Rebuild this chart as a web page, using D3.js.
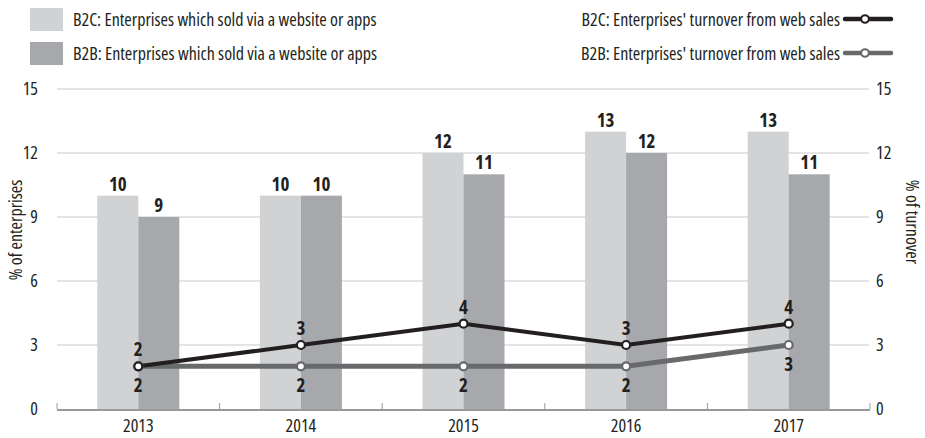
<!DOCTYPE html>
<html><head><meta charset="utf-8">
<script src="https://cdn.jsdelivr.net/npm/d3@7"></script>
<style>body{margin:0;background:#fff}svg{display:block}svg text{font-family:"Open Sans",sans-serif;font-stretch:80%;fill:#231f20}</style>
</head><body><svg id="c" width="925" height="438"></svg>
<script>
const years = ["2013","2014","2015","2016","2017"];
const b2cSold = [10,10,12,13,13];
const b2bSold = [9,10,11,12,11];
const b2cTurnover = [2,3,4,3,4];
const b2bTurnover = [2,2,2,2,3];
const yTicks = [0,3,6,9,12,15];
const legendBars = ["B2C: Enterprises which sold via a website or apps","B2B: Enterprises which sold via a website or apps"];
const legendLines = ["B2C: Enterprises' turnover from web sales","B2B: Enterprises' turnover from web sales"];

const svg = d3.select("#c");
const L = 57, R = 870, T = 89, B = 409;
const x = d3.scaleBand().domain(years).range([L, R]);
const y = d3.scaleLinear().domain([0, 15]).range([B, T]);
const y2 = d3.scaleLinear().domain([0, 15]).range([B, T]);
const barW = 41;
const cB2C = "#d1d2d4", cB2B = "#a7a8ab", cL1 = "#231f20", cL2 = "#68696b";
const FF = '"Open Sans",sans-serif';

// gridlines
svg.append("g").selectAll("line").data(yTicks.filter(d=>d>0)).join("line")
  .attr("x1", L).attr("x2", R-1).attr("y1", d=>y(d)).attr("y2", d=>y(d))
  .attr("stroke", "#c9c9cb").attr("stroke-width", 1.2);

// axes labels
const la = svg.append("g").attr("transform", `translate(${L},0)`)
  .call(d3.axisLeft(y).tickValues(yTicks).tickSize(0).tickPadding(19));
la.select(".domain").remove();
la.selectAll("text").style("font-size","18px").style("font-family",FF).attr("fill","#231f20");
const ra = svg.append("g").attr("transform", `translate(${R},0)`)
  .call(d3.axisRight(y2).tickValues(yTicks).tickSize(0).tickPadding(6));
ra.select(".domain").remove();
ra.selectAll("text").style("font-size","18px").style("font-family",FF).attr("fill","#231f20");

// bars
const cx = d => x(d) + x.bandwidth()/2;
svg.append("g").selectAll("rect").data(years).join("rect")
  .attr("x", d=>cx(d)-barW).attr("width", barW)
  .attr("y", (d,i)=>y(b2cSold[i])).attr("height", (d,i)=>B-y(b2cSold[i])).attr("fill", cB2C);
svg.append("g").selectAll("rect").data(years).join("rect")
  .attr("x", d=>cx(d)).attr("width", barW)
  .attr("y", (d,i)=>y(b2bSold[i])).attr("height", (d,i)=>B-y(b2bSold[i])).attr("fill", cB2B);

// bar labels
svg.append("g").selectAll("text").data(years).join("text")
  .attr("x", d=>cx(d)-barW/2).attr("y", (d,i)=>y(b2cSold[i])-5)
  .attr("text-anchor","middle").style("font-size","19px").style("font-weight","bold").text((d,i)=>b2cSold[i]);
svg.append("g").selectAll("text").data(years).join("text")
  .attr("x", d=>cx(d)+barW/2).attr("y", (d,i)=>y(b2bSold[i])-5)
  .attr("text-anchor","middle").style("font-size","19px").style("font-weight","bold").text((d,i)=>b2bSold[i]);

// baseline and ticks
svg.append("line").attr("x1",L).attr("x2",R).attr("y1",B+1).attr("y2",B+1).attr("stroke","#98999b").attr("stroke-width",2);
const sepTicks = [L, ...years.slice(1).map(d=>x(d)), R];
svg.append("g").selectAll("line").data(sepTicks).join("line")
  .attr("x1",d=>d).attr("x2",d=>d).attr("y1",B-6).attr("y2",B).attr("stroke","#98999b").attr("stroke-width",1);

// x labels
svg.append("g").selectAll("text").data(years).join("text")
  .attr("x", cx).attr("y", 432).attr("text-anchor","middle").style("font-size","18px").text(d=>d);

// lines
const line = d3.line().x((d,i)=>cx(years[i])).y(d=>y2(d));
svg.append("path").datum(b2bTurnover).attr("d", line).attr("fill","none").attr("stroke",cL2).attr("stroke-width",5);
svg.append("path").datum(b2cTurnover).attr("d", line).attr("fill","none").attr("stroke",cL1).attr("stroke-width",4);
svg.append("g").selectAll("circle").data(b2bTurnover).join("circle")
  .attr("cx",(d,i)=>cx(years[i])).attr("cy",d=>y2(d)).attr("r",4).attr("fill","#fff").attr("stroke",cL2).attr("stroke-width",2.2);
svg.append("g").selectAll("circle").data(b2cTurnover).join("circle")
  .attr("cx",(d,i)=>cx(years[i])).attr("cy",d=>y2(d)).attr("r",4).attr("fill","#fff").attr("stroke",cL1).attr("stroke-width",2.2);
svg.append("g").selectAll("text").data(b2cTurnover).join("text")
  .attr("x",(d,i)=>cx(years[i])).attr("y",d=>y2(d)-10).attr("text-anchor","middle")
  .style("font-size","19px").style("font-weight","bold").text(d=>d);
svg.append("g").selectAll("text").data(b2bTurnover).join("text")
  .attr("x",(d,i)=>cx(years[i])).attr("y",d=>y2(d)+26).attr("text-anchor","middle")
  .style("font-size","19px").style("font-weight","bold").text(d=>d);

// axis titles
svg.append("text").attr("transform","translate(22,230) rotate(-90)").attr("text-anchor","middle").style("font-size","18px").text("% of enterprises");
svg.append("text").attr("transform","translate(906,222) rotate(90)").attr("text-anchor","middle").style("font-size","18px").text("% of turnover");

// legend bars
const lgB = svg.append("g");
[cB2C, cB2B].forEach((c,i)=>{
  lgB.append("rect").attr("x",30).attr("y",8+i*34).attr("width",33).attr("height",23).attr("fill",c);
  lgB.append("text").attr("x",73).attr("y",26+i*34).style("font-size","18px").text(legendBars[i]);
});
const lgL = svg.append("g");
[cL1, cL2].forEach((c,i)=>{
  const yy = 19+i*34;
  lgL.append("line").attr("x1",845).attr("x2",891).attr("y1",yy).attr("y2",yy).attr("stroke",c).attr("stroke-width",4.5).attr("stroke-linecap","round");
  lgL.append("circle").attr("cx",865).attr("cy",yy).attr("r",3.8).attr("fill","#fff").attr("stroke",c).attr("stroke-width",2);
  lgL.append("text").attr("x",840).attr("y",yy+7).attr("text-anchor","end").style("font-size","18px").text(legendLines[i]);
});
</script></body></html>
